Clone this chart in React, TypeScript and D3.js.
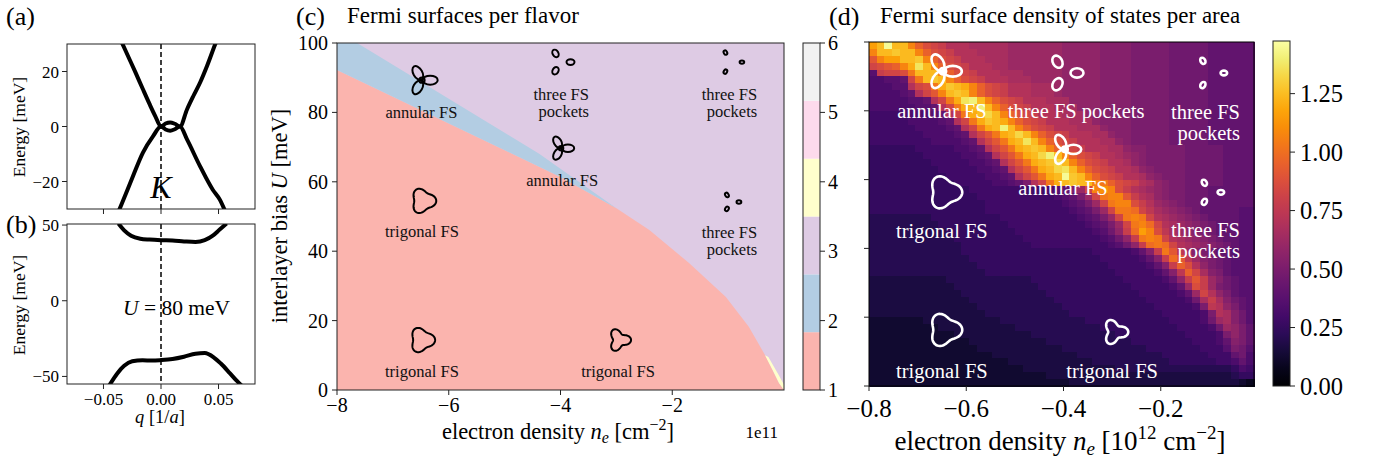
import React from "react";
import * as d3 from "d3";

const FONT = "'Liberation Serif','Times New Roman',Times,serif";

// ================= DATA =================
// (a) bands at U = 0 : q [1/a], E [meV]
const aUpperQ = [-0.034, -0.028, -0.022, -0.016, -0.010, -0.005, 0, 0.004, 0.008, 0.012, 0.0165, 0.0226, 0.028, 0.034, 0.040, 0.047, 0.050];
const aUpperE = [30.5, 25, 19.5, 13.8, 8.2, 3.8, 0, 1.1, 1.5, 1.0, 0, 6.2, 11, 16, 22, 29.8, 33];
const aLowerQ = [-0.037, -0.034, -0.0243, -0.0157, -0.007, 0, 0.004, 0.008, 0.012, 0.0165, 0.0226, 0.034, 0.045, 0.051, 0.056];
const aLowerE = [-31, -28, -18, -9.5, -3.6, 0, -1.1, -1.5, -1.0, 0, -4.7, -14.5, -23, -26.5, -31];
// (b) bands at U = 80 meV
const bUpperQ = [-0.037, -0.032, -0.026, -0.018, -0.010, 0, 0.010, 0.020, 0.030, 0.038, 0.045, 0.051, 0.057];
const bUpperE = [51, 46.5, 43, 41, 40.4, 40, 39.8, 39.2, 38.8, 40, 43, 47, 51];
const bLowerQ = [-0.045, -0.038, -0.032, -0.025, -0.016, -0.008, 0, 0.010, 0.020, 0.030, 0.038, 0.046, 0.052, 0.060, 0.066, 0.070];
const bLowerE = [-56, -48, -43, -40, -39.3, -39.5, -39.2, -38.5, -37, -35, -34.6, -37.5, -41.5, -48, -53, -56];
const aYTicks = [-20, 0, 20];
const bYTicks = [-50, 0, 50];
const qTicks = [-0.05, 0, 0.05];
const qTickLabels = ["−0.05", "0.00", "0.05"];

// (c) phase diagram: n_e [1e11 cm^-2], U [meV]
const salmonEdgeN = [-8, -4.0, -3.0, -2.41, -1.70, -1.04, -0.63, -0.32, -0.09, 0];
const salmonEdgeU = [92.2, 61.4, 52.4, 46.1, 36.6, 26.8, 18.2, 9.5, 2.0, 0];
const blueEdgeN = [-7.64, -4.375, -3.0];
const blueEdgeU = [100, 68, 52.4];
const yellowN = [-0.34, -0.2, -0.09, 0, 0, -0.1, -0.28];
const yellowU = [10, 5.6, 2, 0, 1.5, 4.5, 9.5];
const phaseColors = ["#fbb4ae", "#b3cde3", "#decbe4", "#ffffcc", "#fddaec", "#f2f2f2"];
const phaseTicks = [1, 2, 3, 4, 5, 6];
const cXTicks = [-8, -6, -4, -2];
const cXTickLabels = ["−8", "−6", "−4", "−2"];
const cYTicks = [0, 20, 40, 60, 80, 100];

const cMarkKind = ["annular", "pockets", "pockets", "annular", "pockets", "trigonal", "trigonal", "trigonal"];
const cMarkN = [-6.48, -4.0, -0.95, -3.99, -0.95, -6.46, -6.48, -2.95];
const cMarkU = [89.3, 94.5, 94.5, 69.7, 54.2, 54.5, 14.4, 14.4];
const cMarkR = [15, 10, 11, 12.5, 8, 11, 11, 9];
const cMarkW = [0, 4, 2.3, 0, 2.4, 0.2, 0.2, 0.32];
const cLabelText = ["annular FS", "three FS\npockets", "three FS\npockets", "annular FS", "three FS\npockets", "trigonal FS", "trigonal FS", "trigonal FS"];
const cLabelN = [-6.49, -3.49, -0.48, -3.97, -0.48, -6.48, -6.48, -2.97];
const cLabelU = [78.4, 83.6, 83.6, 58.8, 43.8, 44.1, 3.7, 3.7];
const cLabelAnchor = ["middle", "end", "end", "middle", "end", "middle", "middle", "middle"];

// (d) density of states heat map, rows from U=100 (top) to U=0, columns n_e = -0.8 ... 0
// one character per cell, base-36 level k -> value k * 1.45 / 35
const heatRows = [
  "suzuuqnlkj hhhgggggff fffffeeeee ddddcccccb bbbbaaaaaa",
  "quuvuuqnlk jhhhggggff fffffeeeee ddddcccccb bbbbaaaaaa",
  "mqssuuvqnl kjhhhgggff fffffeeeee ddddcccccb bbbbaaaaaa",
  "klmnqtxuqn lkjhhhggff fffffeeeee ddddcccccb bbbbaaaaaa",
  "9jkklpuuuq nlkjhhhggg fffffeeeee ddddcccccb bbbbaaaaaa",
  "8899akpuvu qnlkjhhhgg gffffeeeee ddddcccccb bbbbaaaaaa",
  "88899hklpt vutqnlkjhh hgggfeeeee ddddcccccb bbbbaaaaaa",
  "88889ahkmq uvuqnlkjhh hgggfeeeee ddddcccccb bbbbaaaaaa",
  "8888899ahk ptxyuqnlkj hhhgggeeee ddddcccccb bbbbaaaaaa",
  "88888899ah kptuyuqnlk jhhhgggeee ddddcccccb bbbbaaaaaa",
  "777788889a hkptuwuqnl kjhhhgggee ddddcccccb bbbbaaaaaa",
  "7777788889 ahkptvutqn lkjhhhggge ddddcccccb bbbbaaaaaa",
  "7777778888 9ahkptuyuq nlkjhhhggg edddcccccb bbbbaaaaaa",
  "7777777888 89ahkmptuw uqnlkjhhhg geddcccccb bbbbaaaaaa",
  "7777777788 889ahkmptu xuqnlkjhhh ggedcccccb bbbbaaaaaa",
  "6666667777 7889ahkmpt uvuqnlkjhh hggeddcccc cbbbbbaaaa",
  "6666666777 77889ahkmp tuwyuqnlkj hhgfedcccc cbbbbbaaaa",
  "6666666677 777889ahkm ptuvwuqnlk jhhgedcccc cbbbbbaaaa",
  "6666666667 7777889ahk mptuwxuqnl kjhhgedccc cbbbbbaaaa",
  "6666666666 77777889ah kmptuzvuqn lkjhhgedcc cbbbbbaaaa",
  "6666666666 677777889a chkptuvuuq pnlkjhgedc cbbbbbaaaa",
  "6666666666 6667777777 77789acfkq rqljhgfedc cbbbaaaaaa",
  "6666666666 6666777777 777789acfk pqqmjhgedc cbbbaaaaaa",
  "6666666666 6666677777 7777789acf kpqqljhfed cbbaaaaaaa",
  "6666666666 6666677777 77777789ac fkppokigfe dcbaaaaa99",
  "5555555566 6666666777 777777789a cfkpqpkhgf edcbaaaa99",
  "5555555556 6666666677 7777777789 acfkpqokhg fedcbaaa99",
  "5555555555 6666666667 7777777778 9bejosqlig fedcbaaa99",
  "5555555555 5666666666 7777777777 89bejpqpkh gfedcbaa99",
  "5555555555 5566666666 6777777777 789bejopok hgfedcba99",
  "5555555555 5566666666 6666666667 77778adjpm ifdcbaa999",
  "5555555555 5556666666 6666666666 777778adjo mifdcba999",
  "5555555555 5555666666 6666666666 6777778adj nlhecba999",
  "5555555555 5555566666 6666666666 66777778ad inkgdca999",
  "4444444444 5555555555 5666666666 666777778a ejmjfdba99",
  "4444444444 4555555555 5566666666 6666777778 afljfcba99",
  "4444444444 4455555555 5556666666 6666677777 8afkheca99",
  "4444444444 4445555555 5555666666 6666667777 78bgjgdba9",
  "4444444444 4444555555 5555566666 6666666777 778ciheca9",
  "4444444444 4444455555 5555556666 6666666677 7778chgdb9",
  "3333333444 4444444555 5555555566 6666666667 7778bfgdb9",
  "3333333334 4444444445 5555555555 6666666666 77778bfeca",
  "3333333333 3444444444 4555555555 5566666666 677778ceca",
  "3333333333 3334444444 4445555555 5555666666 667778adca",
  "3333333333 3333444444 4444455555 5555556666 6667779cb9",
  "3333333333 3333334444 4444444555 5555555566 6666777ab8",
  "3333333333 3333333344 4444444445 5555555556 66666778a8",
  "3333333333 3333333333 4444444444 4455555555 5555555687",
  "3333333333 3333333333 3334444444 4444444444 4444444566",
  "3333333333 3333333333 3333334444 4444444444 4444444432",
];
const heatNMin = -0.8;
const heatNMax = -0.0082;
const heatVMax = 1.475;
const dXTicks = [-0.8, -0.6, -0.4, -0.2];
const dXTickLabels = ["−0.8", "−0.6", "−0.4", "−0.2"];
const dYTicks = [0, 20, 40, 60, 80, 100];
const dCbTicks = [0, 0.25, 0.5, 0.75, 1.0, 1.25];

const dMarkKind = ["annular", "pockets", "pockets", "annular", "pockets", "trigonal", "trigonal", "trigonal"];
const dMarkN = [-0.648, -0.399, -0.099, -0.397, -0.099, -0.644, -0.644, -0.294];
const dMarkU = [91.5, 91, 91, 68.8, 56.3, 56.3, 16.3, 15.7];
const dMarkR = [18, 13, 14, 15.5, 11, 14.5, 14.5, 10];
const dMarkW = [0, 6.5, 3.3, 0, 3.3, 0.2, 0.2, 0.32];
const dLabelText = ["annular FS", "three FS pockets", "three FS\npockets", "annular FS", "three FS\npockets", "trigonal FS", "trigonal FS", "trigonal FS"];
const dLabelN = [-0.65, -0.374, -0.037, -0.401, -0.037, -0.65, -0.65, -0.30];
const dLabelU = [77.8, 77.8, 77.6, 55.4, 43.4, 43.1, 2.3, 2.3];
const dLabelAnchor = ["middle", "middle", "end", "middle", "end", "middle", "middle", "middle"];

// ================= HELPERS =================
function Icon({ kind, x, y, R, w, stroke, sw }: any) {
  const dirs = [0, 120, 240];
  if (kind === "trigonal") {
    const pts: [number, number][] = d3.range(0, 96).map((i) => {
      const t = (i / 96) * 2 * Math.PI;
      const r = R * (1 + w * Math.cos(3 * t));
      return [r * Math.cos(t), -r * Math.sin(t)];
    });
    const p = d3.line().curve(d3.curveLinearClosed)(pts) as string;
    return <path d={p} transform={`translate(${x},${y})`} fill="none" stroke={stroke} strokeWidth={sw} />;
  }
  if (kind === "annular") {
    return (
      <g transform={`translate(${x},${y})`} fill="none" stroke={stroke} strokeWidth={sw}>
        {dirs.map((a) => (
          <ellipse key={a} cx={0.55 * R} cy={0} rx={0.5 * R} ry={0.3 * R} transform={`rotate(${-a})`} />
        ))}
        <circle r={0.18 * R} />
      </g>
    );
  }
  return (
    <g transform={`translate(${x},${y})`} fill="none" stroke={stroke} strokeWidth={sw}>
      {dirs.map((a) => (
        <ellipse key={a} cx={R} cy={0} rx={w} ry={0.72 * w} transform={`rotate(${-a})`} />
      ))}
    </g>
  );
}

function Label({ text, x, y, anchor, size, fill, lh }: any) {
  const lines = String(text).split("\n");
  return (
    <text x={x} y={y} textAnchor={anchor} fontSize={size} fill={fill}>
      {lines.map((l, i) => (
        <tspan key={i} x={x} dy={i === 0 ? 0 : lh}>
          {l}
        </tspan>
      ))}
    </text>
  );
}

export default function App() {
  // scales
  const qS = d3.scaleLinear().domain([-0.0817, 0.0817]).range([67, 255]);
  const eA = d3.scaleLinear().domain([-30, 30]).range([209, 44]);
  const eB = d3.scaleLinear().domain([-55, 50.7]).range([384, 224]);
  const xC = d3.scaleLinear().domain([-8, 0]).range([337, 784]);
  const yC = d3.scaleLinear().domain([0, 100]).range([390, 43]);
  const yCb = d3.scaleLinear().domain([1, 6]).range([390, 43]);
  const xD = d3.scaleLinear().domain([-0.8, 0]).range([869, 1258]);
  const yD = d3.scaleLinear().domain([0, 100]).range([386, 42]);
  const yDb = d3.scaleLinear().domain([0, heatVMax]).range([386, 41]);
  const heatColor = d3.scaleSequential(d3.interpolateInferno).domain([0, heatVMax]);

  const bandPath = (xs: number[], ys: number[], yS: any) =>
    d3
      .line<number>()
      .x((i) => qS(xs[i]))
      .y((i) => yS(ys[i]))
      .curve(d3.curveMonotoneX)(d3.range(xs.length)) as string;

  const polyC = (pts: [number, number][]) =>
    (d3
      .line<[number, number]>()
      .x((d) => xC(d[0]))
      .y((d) => yC(d[1]))(pts) as string) + "Z";

  const salmonPts: [number, number][] = [[-8, 0], ...salmonEdgeN.map((n, i) => [n, salmonEdgeU[i]] as [number, number])];
  const bluePts: [number, number][] = [
    [salmonEdgeN[0], salmonEdgeU[0]],
    [-8, 100],
    ...blueEdgeN.map((n, i) => [n, blueEdgeU[i]] as [number, number]),
    [salmonEdgeN[1], salmonEdgeU[1]],
  ];
  const yellowPts: [number, number][] = yellowN.map((n, i) => [n, yellowU[i]]);

  const grid = heatRows.map((r) => r.replace(/ /g, ""));
  const nCols = grid[0].length;
  const colB = d3.scaleBand<number>().domain(d3.range(nCols)).range([xD(heatNMin), xD(heatNMax)]);
  const rowB = d3.scaleBand<number>().domain(d3.range(grid.length)).range([yD(100), yD(0)]);

  const tickLen = 5;
  const frame = "#222";

  const cbStops = d3.range(0, 1.0001, 0.05);

  return (
    <div style={{ position: "absolute", left: 0, top: 0 }}>
      <svg width={1375} height={461} style={{ display: "block", background: "#fff" }} fontFamily={FONT}>
        <defs>
          <clipPath id="clipA">
            <rect x={67} y={44} width={188} height={165} />
          </clipPath>
          <clipPath id="clipB">
            <rect x={67} y={224} width={188} height={160} />
          </clipPath>
          <clipPath id="clipC">
            <rect x={337} y={43} width={447} height={347} />
          </clipPath>
          <linearGradient id="infernoGrad" x1="0" y1="1" x2="0" y2="0">
            {cbStops.map((t) => (
              <stop key={t} offset={t} stopColor={d3.interpolateInferno(t)} />
            ))}
          </linearGradient>
        </defs>

        {/* ================= (a) ================= */}
        <text x={6} y={25} fontSize={26}>(a)</text>
        <g clipPath="url(#clipA)">
          <line x1={qS(0)} x2={qS(0)} y1={44} y2={209} stroke="#000" strokeWidth={1.5} strokeDasharray="5,3" />
          <path d={bandPath(aUpperQ, aUpperE, eA)} fill="none" stroke="#000" strokeWidth={4} />
          <path d={bandPath(aLowerQ, aLowerE, eA)} fill="none" stroke="#000" strokeWidth={4} />
        </g>
        <text x={qS(0)} y={198} textAnchor="middle" fontSize={32} fontStyle="italic">K</text>
        <rect x={67} y={44} width={188} height={165} fill="none" stroke={frame} strokeWidth={1} />
        {aYTicks.map((v) => (
          <g key={v}>
            <line x1={67 - tickLen} x2={67} y1={eA(v)} y2={eA(v)} stroke={frame} />
            <text x={59} y={eA(v) + 6} textAnchor="end" fontSize={17}>{v < 0 ? "−" + Math.abs(v) : v}</text>
          </g>
        ))}
        {qTicks.map((v) => (
          <line key={v} x1={qS(v)} x2={qS(v)} y1={209} y2={209 + tickLen} stroke={frame} />
        ))}
        <text transform="translate(25,127) rotate(-90)" textAnchor="middle" fontSize={17.5}>Energy [meV]</text>

        {/* ================= (b) ================= */}
        <text x={6} y={233} fontSize={26}>(b)</text>
        <g clipPath="url(#clipB)">
          <line x1={qS(0)} x2={qS(0)} y1={224} y2={384} stroke="#000" strokeWidth={1.5} strokeDasharray="5,3" />
          <path d={bandPath(bUpperQ, bUpperE, eB)} fill="none" stroke="#000" strokeWidth={4} />
          <path d={bandPath(bLowerQ, bLowerE, eB)} fill="none" stroke="#000" strokeWidth={4} />
        </g>
        <rect x={67} y={224} width={188} height={160} fill="none" stroke={frame} strokeWidth={1} />
        <text x={123} y={315} fontSize={21.5}>
          <tspan fontStyle="italic">U</tspan> = 80 meV
        </text>
        {bYTicks.map((v) => (
          <g key={v}>
            <line x1={67 - tickLen} x2={67} y1={eB(v)} y2={eB(v)} stroke={frame} />
            <text x={59} y={eB(v) + 6} textAnchor="end" fontSize={17}>{v < 0 ? "−" + Math.abs(v) : v}</text>
          </g>
        ))}
        {qTicks.map((v, i) => (
          <g key={v}>
            <line x1={qS(v)} x2={qS(v)} y1={384} y2={384 + tickLen} stroke={frame} />
            <text x={qS(v)} y={405} textAnchor="middle" fontSize={17}>{qTickLabels[i]}</text>
          </g>
        ))}
        <text x={160} y={423} textAnchor="middle" fontSize={18.5}>
          <tspan fontStyle="italic">q</tspan> [1/<tspan fontStyle="italic">a</tspan>]
        </text>
        <text transform="translate(25,305) rotate(-90)" textAnchor="middle" fontSize={17.5}>Energy [meV]</text>

        {/* ================= (c) ================= */}
        <text x={296} y={25} fontSize={26}>(c)</text>
        <text x={347} y={23} fontSize={23}>Fermi surfaces per flavor</text>
        <g clipPath="url(#clipC)">
          <rect x={337} y={43} width={447} height={347} fill={phaseColors[2]} />
          <path d={polyC(salmonPts)} fill={phaseColors[0]} />
          <path d={polyC(bluePts)} fill={phaseColors[1]} />
          <path d={polyC(yellowPts)} fill={phaseColors[3]} />
        </g>
        {cMarkKind.map((k, i) => (
          <Icon key={i} kind={k} x={xC(cMarkN[i])} y={yC(cMarkU[i])} R={cMarkR[i]} w={cMarkW[i]} stroke="#000" sw={2} />
        ))}
        {cLabelText.map((t, i) => (
          <Label key={i} text={t} x={xC(cLabelN[i])} y={yC(cLabelU[i])} anchor={cLabelAnchor[i]} size={16.5} fill="#111" lh={17} />
        ))}
        <rect x={337} y={43} width={447} height={347} fill="none" stroke={frame} strokeWidth={1} />
        {cYTicks.map((v) => (
          <g key={v}>
            <line x1={337 - tickLen} x2={337} y1={yC(v)} y2={yC(v)} stroke={frame} />
            <text x={328} y={yC(v) + 7} textAnchor="end" fontSize={20}>{v}</text>
          </g>
        ))}
        {cXTicks.map((v, i) => (
          <g key={v}>
            <line x1={xC(v)} x2={xC(v)} y1={390} y2={390 + tickLen} stroke={frame} />
            <text x={xC(v)} y={412} textAnchor="middle" fontSize={20}>{cXTickLabels[i]}</text>
          </g>
        ))}
        <text x={778} y={438} textAnchor="end" fontSize={17}>1e11</text>
        <text x={558} y={439} textAnchor="middle" fontSize={22.5}>
          electron density <tspan fontStyle="italic">n</tspan>
          <tspan fontStyle="italic" fontSize={16} dy={4}>e</tspan>
          <tspan dy={-4}> [cm</tspan>
          <tspan fontSize={16} dy={-9}>−2</tspan>
          <tspan dy={9}>]</tspan>
        </text>
        <text transform="translate(287,216) rotate(-90)" textAnchor="middle" fontSize={22.5}>
          interlayer bias <tspan fontStyle="italic">U</tspan> [meV]
        </text>

        {/* (c) colorbar */}
        {phaseColors.map((c, i) => (
          <rect
            key={c}
            x={803}
            y={yCb(1 + ((i + 1) * 5) / 6)}
            width={17}
            height={yCb(1 + (i * 5) / 6) - yCb(1 + ((i + 1) * 5) / 6)}
            fill={c}
          />
        ))}
        <rect x={803} y={43} width={17} height={347} fill="none" stroke={frame} strokeWidth={1} />
        {phaseTicks.map((v) => (
          <g key={v}>
            <line x1={820} x2={820 + tickLen} y1={yCb(v)} y2={yCb(v)} stroke={frame} />
            <text x={828} y={yCb(v) + 7} fontSize={20}>{v}</text>
          </g>
        ))}

        {/* ================= (d) ================= */}
        <text x={829} y={25} fontSize={26}>(d)</text>
        <text x={880} y={23} fontSize={23}>Fermi surface density of states per area</text>
        <g shapeRendering="crispEdges">
          {grid.map((row, r) =>
            row.split("").map((ch, c) => (
              <rect
                key={r + "_" + c}
                x={colB(c)}
                y={rowB(r)}
                width={colB.bandwidth() + 0.6}
                height={rowB.bandwidth() + 0.6}
                fill={heatColor((parseInt(ch, 36) * 1.45) / 35)}
              />
            ))
          )}
        </g>
        {dMarkKind.map((k, i) => (
          <Icon key={i} kind={k} x={xD(dMarkN[i])} y={yD(dMarkU[i])} R={dMarkR[i]} w={dMarkW[i]} stroke="#fff" sw={2.6} />
        ))}
        {dLabelText.map((t, i) => (
          <Label key={i} text={t} x={xD(dLabelN[i])} y={yD(dLabelU[i])} anchor={dLabelAnchor[i]} size={20.5} fill="#fff" lh={21} />
        ))}
        <rect x={869} y={42} width={colB.range()[1] - 869} height={344} fill="none" stroke="#000" strokeWidth={1} />
        {dYTicks.map((v) => (
          <line key={v} x1={869 - tickLen} x2={869} y1={yD(v)} y2={yD(v)} stroke={frame} />
        ))}
        {dXTicks.map((v, i) => (
          <g key={v}>
            <line x1={xD(v)} x2={xD(v)} y1={386} y2={386 + tickLen} stroke={frame} />
            <text x={xD(v)} y={417} textAnchor="middle" fontSize={25}>{dXTickLabels[i]}</text>
          </g>
        ))}
        <text x={1060} y={450} textAnchor="middle" fontSize={27}>
          electron density <tspan fontStyle="italic">n</tspan>
          <tspan fontStyle="italic" fontSize={19} dy={5}>e</tspan>
          <tspan dy={-5}> [10</tspan>
          <tspan fontSize={19} dy={-11}>12</tspan>
          <tspan dy={11}> cm</tspan>
          <tspan fontSize={19} dy={-11}>−2</tspan>
          <tspan dy={11}>]</tspan>
        </text>

        {/* (d) colorbar */}
        <rect x={1273} y={41} width={17} height={345} fill="url(#infernoGrad)" />
        <rect x={1273} y={41} width={17} height={345} fill="none" stroke={frame} strokeWidth={1} />
        {dCbTicks.map((v) => (
          <g key={v}>
            <line x1={1290} x2={1290 + tickLen} y1={yDb(v)} y2={yDb(v)} stroke={frame} />
            <text x={1300} y={yDb(v) + 8.5} fontSize={24.5}>{d3.format(".2f")(v)}</text>
          </g>
        ))}
      </svg>
    </div>
  );
}
